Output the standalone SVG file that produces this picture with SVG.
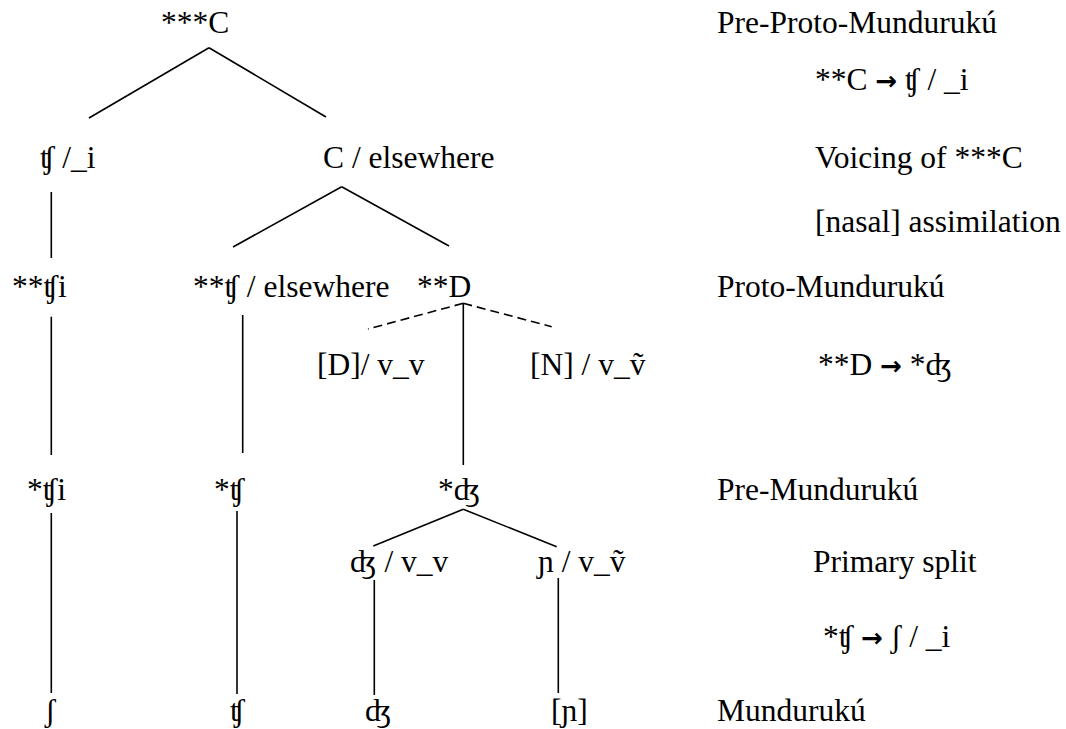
<svg xmlns="http://www.w3.org/2000/svg" width="1066" height="729" viewBox="0 0 1066 729">
<style>
text{font-family:'Liberation Serif','DejaVu Serif',serif;font-size:31.5px;fill:#000}
.arr{font-family:'DejaVu Sans',sans-serif;font-weight:bold;font-size:26px}
line{stroke:#000;stroke-width:1.6;fill:none}
.dash{stroke-dasharray:9 5}
</style>
<rect width="1066" height="729" fill="#fff"/>
<g id="connectors">
<line x1="209" y1="47.7" x2="89" y2="118"/>
<line x1="209" y1="47.7" x2="326" y2="117"/>
<line x1="51.3" y1="192" x2="51.3" y2="258"/>
<line x1="341.7" y1="186.7" x2="233" y2="247"/>
<line x1="341.7" y1="186.7" x2="449" y2="246"/>
<line x1="51.3" y1="316.7" x2="51.3" y2="455"/>
<line x1="242.7" y1="315" x2="242.7" y2="453"/>
<line class="dash" x1="463.3" y1="303.3" x2="368" y2="329"/>
<line class="dash" x1="463.3" y1="303.3" x2="551.7" y2="326.7"/>
<line x1="463.3" y1="303.3" x2="463.3" y2="465"/>
<line x1="51.3" y1="513" x2="51.3" y2="693"/>
<line x1="237" y1="511" x2="237" y2="694"/>
<line x1="463.3" y1="509.3" x2="373.3" y2="546"/>
<line x1="463.3" y1="509.3" x2="556.7" y2="546.7"/>
<line x1="374.3" y1="580" x2="374.3" y2="695"/>
<line x1="558.3" y1="578" x2="558.3" y2="693"/>
</g>
<g id="n-root"><text x="161" y="33">***C</text></g>
<g id="n-tsh-i"><text x="40" y="168">ʧ /_i</text></g>
<g id="n-c-else"><text x="323" y="168">C / elsewhere</text></g>
<g id="n-pp-tshi"><text x="12" y="297">**ʧi</text></g>
<g id="n-pp-tsh-else"><text x="193" y="297">**ʧ / elsewhere</text></g>
<g id="n-pp-d"><text x="417" y="297">**D</text></g>
<g id="n-d-vv"><text x="317" y="375">[D]/ v_v</text></g>
<g id="n-n-vv"><text x="530" y="375">[N] / v_ṽ</text></g>
<g id="n-p-tshi"><text x="27" y="500">*ʧi</text></g>
<g id="n-p-tsh"><text x="214" y="500">*ʧ</text></g>
<g id="n-p-dzh"><text x="438" y="500">*ʤ</text></g>
<g id="n-dzh-vv"><text x="350" y="572">ʤ / v_v</text></g>
<g id="n-nj-vv"><text x="538" y="572">ɲ / v_ṽ</text></g>
<g id="n-sh"><text x="45" y="721">ʃ</text></g>
<g id="n-tsh"><text x="230" y="721">ʧ</text></g>
<g id="n-dzh"><text x="365" y="721">ʤ</text></g>
<g id="n-nj"><text x="551" y="721">[ɲ]</text></g>
<g id="labels">
<text x="717" y="33">Pre-Proto-Mundurukú</text>
<text x="815" y="90">**C <tspan class="arr">→</tspan> ʧ / _i</text>
<text x="815" y="168">Voicing of ***C</text>
<text x="815" y="232">[nasal] assimilation</text>
<text x="717" y="297">Proto-Mundurukú</text>
<text x="818" y="375">**D <tspan class="arr">→</tspan> *ʤ</text>
<text x="717" y="500">Pre-Mundurukú</text>
<text x="813" y="572">Primary split</text>
<text x="823" y="647">*ʧ <tspan class="arr">→</tspan> ʃ / _i</text>
<text x="717" y="721">Mundurukú</text>
</g>
</svg>
